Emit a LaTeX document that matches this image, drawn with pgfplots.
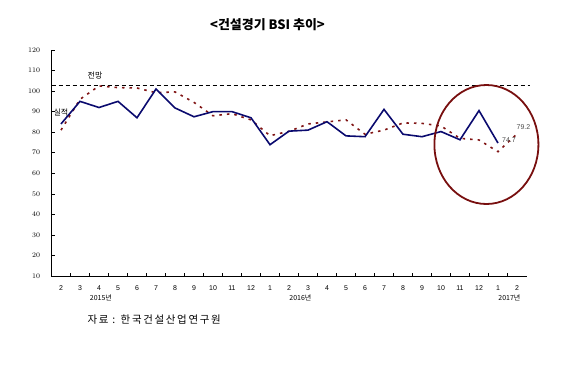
\documentclass[border=0pt]{standalone}
\usepackage{fontspec}
\usepackage{pgfplots}
\pgfplotsset{compat=1.18}
\setmainfont{Liberation Sans}
\newfontfamily\kr{Noto Sans CJK KR}
\newfontfamily\krsp[LetterSpace=16]{Noto Sans CJK KR}
\definecolor{navy}{RGB}{10,10,110}
\definecolor{dred}{RGB}{128,20,20}
\definecolor{ellred}{RGB}{120,15,15}
\begin{document}
\begin{tikzpicture}
\useasboundingbox (0,0) rectangle (567bp,373bp);
\node[font=\kr\bfseries\fontsize{13}{15}\selectfont] at (267.5bp,348bp) {<건설경기 BSI 추이>};
\node[font=\krsp\fontsize{10.5}{12}\selectfont, anchor=west] at (84bp,53bp) {자료 : 한국건설산업연구원};
\begin{axis}[
  at={(51.5bp,97bp)}, anchor=south west,
  scale only axis, width=475bp, height=226bp,
  xmin=-0.5, xmax=24.5, ymin=10, ymax=120,
  axis x line*=bottom, axis y line*=left,
  axis line style={line width=0.8pt},
  clip=false,
  tick align=inside,
  major tick length=3bp,
  xtick={0.5,1.5,2.5,3.5,4.5,5.5,6.5,7.5,8.5,9.5,10.5,11.5,12.5,13.5,14.5,15.5,16.5,17.5,18.5,19.5,20.5,21.5,22.5,23.5},
  xticklabels={},
  extra x ticks={0,1,2,3,4,5,6,7,8,9,10,11,12,13,14,15,16,17,18,19,20,21,22,23,24},
  extra x tick labels={2,3,4,5,6,7,8,9,10,11,12,1,2,3,4,5,6,7,8,9,10,11,12,1,2},
  extra x tick style={major tick length=0pt, tick label style={yshift=-6bp}},
  ytick={10,20,30,40,50,60,70,80,90,100,110,120},
  yticklabel style={xshift=-8bp},
  tick label style={font=\fontsize{7}{8}\selectfont},
  tick style={black, line width=0.6pt},
]
\addplot[black, line width=0.8pt, dash pattern=on 4bp off 3bp] coordinates {(-0.5,103) (24.7,103)};
\addplot[dred, line width=1.6pt, dash pattern=on 2.5bp off 5bp] coordinates {
(0,81) (1,96) (2,102.5) (3,101.7) (4,101.5) (5,99.2) (6,99.6) (7,94.5) (8,88) (9,89) (10,86) (11,78.3) (12,80.4)
(13,84) (14,85) (15,86) (16,79) (17,81) (18,84.5) (19,84.3) (20,83) (21,77) (22,76.2) (23,70.5) (24,79.2)};
\addplot[navy, line width=1.6pt] coordinates {
(0,84) (1,95) (2,92) (3,95) (4,87) (5,101) (6,91.8) (7,87.5) (8,90) (9,90) (10,87) (11,73.9) (12,80.5)
(13,81) (14,85.1) (15,78.2) (16,77.8) (17,91.1) (18,79) (19,77.8) (20,80.3) (21,76.3) (22,90.5) (23,74.7)};
\draw[ellred, line width=1.8pt] (axis cs:22.39,74) ellipse [x radius=52bp, y radius=59.5bp];
\node[font=\fontsize{7}{8}\selectfont, text=black!70, anchor=west, inner sep=0pt] at (axis cs:23,74.7) [xshift=4bp, yshift=3bp] {74.7};
\node[font=\fontsize{7}{8}\selectfont, text=black!70, anchor=west, inner sep=0pt] at (axis cs:24,79.2) [xshift=-0.5bp, yshift=6.5bp] {79.2};
\node[font=\kr\fontsize{8}{9}\selectfont] at (axis cs:1.79,107.8) {전망};
\node[font=\kr\fontsize{8}{9}\selectfont] at (axis cs:0,89.8) {실적};
\node[font=\kr\fontsize{7}{8}\selectfont] at (axis cs:2.1,10) [yshift=-22bp] {2015년};
\node[font=\kr\fontsize{7}{8}\selectfont] at (axis cs:12.6,10) [yshift=-22bp] {2016년};
\node[font=\kr\fontsize{7}{8}\selectfont] at (axis cs:23.6,10) [yshift=-22bp] {2017년};
\end{axis}
\end{tikzpicture}
\end{document}
